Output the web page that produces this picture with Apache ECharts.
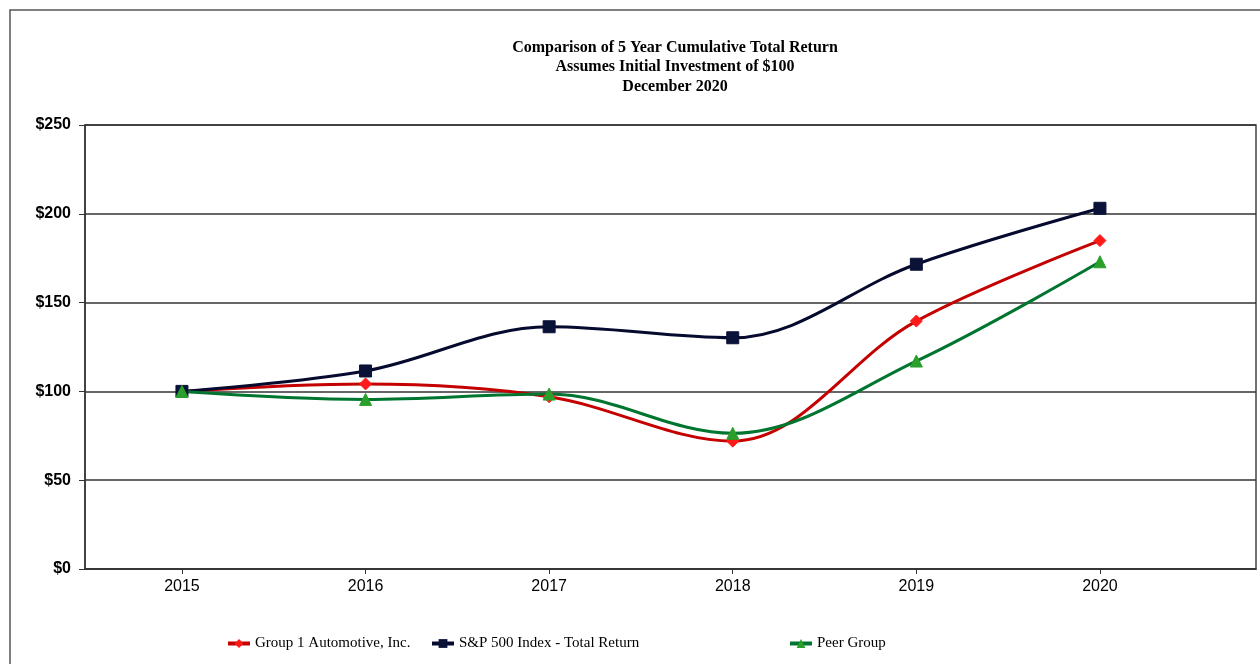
<!DOCTYPE html>
<html><head><meta charset="utf-8">
<script src="https://cdn.jsdelivr.net/npm/echarts@6/dist/echarts.min.js"></script>
<style>html,body{margin:0;padding:0;background:#fff}#c{width:1260px;height:664px}</style>
</head><body><div id="c"></div>
<script>
const years = [2015, 2016, 2017, 2018, 2019, 2020];
const group1 = [100, 104.2, 97, 72, 139.6, 184.9];
const sp500 = [100, 111.5, 136.4, 130.2, 171.6, 203.1];
const peer = [100, 95.5, 98.5, 76.4, 117.1, 173];
const yTicks = [0, 50, 100, 150, 200, 250];
const seriesNames = ['Group 1 Automotive, Inc.', 'S&P 500 Index - Total Return', 'Peer Group'];
const titleLines = ['Comparison of 5 Year Cumulative Total Return', 'Assumes Initial Investment of $100', 'December 2020'];

const pair = arr => years.map((y, i) => [y, arr[i]]);
const chart = echarts.init(document.getElementById('c'), null, {renderer: 'canvas'});
const legendStyle = {fontFamily: 'Liberation Serif', fontSize: 15, color: '#000'};
const mkSeries = (name, data, lineColor, mColor, symbol, size) => ({
  name, type: 'line', data: pair(data), smooth: 0.35,
  symbol, symbolSize: size,
  lineStyle: {color: lineColor, width: 3},
  itemStyle: {color: mColor, borderColor: mColor},
  z: 3
});
const legendBase = {itemWidth: 22, itemHeight: 11, itemGap: 0, textStyle: legendStyle, padding: 0,
  lineStyle: {width: 4}};
chart.setOption({
  animation: false,
  backgroundColor: '#fff',
  title: {
    text: titleLines.join('\n'), left: 670, top: 33, textAlign: 'center',
    textStyle: {fontFamily: 'Liberation Serif', fontWeight: 'bold', fontSize: 16, lineHeight: 19.5, color: '#000'}
  },
  graphic: [{type: 'rect', shape: {x: 10, y: 10, width: 1300, height: 700}, style: {fill: 'none', stroke: '#555', lineWidth: 1.5}, silent: true}],
  legend: [
    Object.assign({data: [seriesNames[0]], left: 226, top: 636}, legendBase),
    Object.assign({data: [seriesNames[1]], left: 430, top: 636}, legendBase),
    Object.assign({data: [seriesNames[2]], left: 788, top: 636}, legendBase)
  ],
  grid: {left: 85, right: 4, top: 125, bottom: 95, show: true, borderColor: '#444', borderWidth: 1.5, backgroundColor: 'transparent'},
  xAxis: {
    type: 'value', min: 2014.472, max: 2020.85,
    axisLine: {show: true, lineStyle: {color: '#333', width: 1.5}},
    axisTick: {show: true, customValues: years, length: 5, lineStyle: {color: '#333'}},
    axisLabel: {customValues: years, fontFamily: 'Liberation Sans', fontSize: 16, color: '#000', margin: 10, formatter: v => String(v)},
    splitLine: {show: false}
  },
  yAxis: {
    type: 'value', min: 0, max: 250, interval: 50,
    axisLine: {show: true, lineStyle: {color: '#333', width: 1.5}},
    axisTick: {show: true, length: 6, lineStyle: {color: '#333'}},
    axisLabel: {fontFamily: 'Liberation Sans', fontWeight: 'bold', fontSize: 16, color: '#000', margin: 14, formatter: v => '$' + v},
    splitLine: {show: true, lineStyle: {color: '#333', width: 1.5}}
  },
  series: [
    mkSeries(seriesNames[0], group1, '#c40000', '#ff1a1a', 'diamond', 12),
    mkSeries(seriesNames[1], sp500, '#050a2e', '#0b1238', 'rect', 12),
    mkSeries(seriesNames[2], peer, '#00752f', '#2aa02a', 'triangle', 12)
  ]
});
</script></body></html>
